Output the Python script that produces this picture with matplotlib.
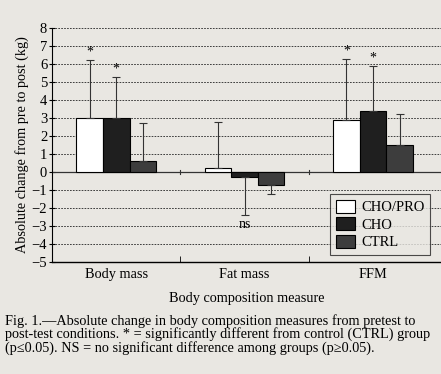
import matplotlib.pyplot as plt
import numpy as np

categories = ['Body mass', 'Fat mass', 'FFM']
groups = ['CHO/PRO', 'CHO', 'CTRL']
# mean change (kg) and SD per group, rows = groups, cols = categories
means = np.array([[3.0, 0.2, 2.9],
                  [3.0, -0.25, 3.4],
                  [0.6, -0.7, 1.5]])
sds = np.array([[3.2, 2.6, 3.4],
                [2.3, 2.15, 2.5],
                [2.1, 0.5, 1.7]])
# significance marks: (group index, category index, text)
marks = [(0, 0, '*'), (1, 0, '*'), (0, 2, '*'), (1, 2, '*'), (1, 1, 'ns')]
yticks = list(range(-5, 9))

paper = '#e9e7e2'
fills = ['#ffffff', '#1f1f1f', '#3d3d3d']

plt.rcParams['font.family'] = ['Liberation Serif', 'DejaVu Serif']
fig = plt.figure(figsize=(4.41, 3.74), dpi=100, facecolor=paper)
ax = fig.add_axes([0.118, 0.2995, 0.882, 0.6255])
ax.set_facecolor(paper)

x = np.arange(len(categories))
w = 0.207
for g in range(len(groups)):
    xs = x + (g - 1) * w
    ax.bar(xs, means[g], width=w, color=fills[g], edgecolor='black',
           linewidth=0.8, label=groups[g], zorder=3)
    sign = np.where(means[g] >= 0, 1, -1)
    lo = np.where(sign < 0, sds[g], 0)
    hi = np.where(sign > 0, sds[g], 0)
    ax.errorbar(xs, means[g], yerr=[lo, hi], fmt='none', ecolor='#333333',
                elinewidth=0.8, capsize=3, capthick=0.8, zorder=4)

for g, c, t in marks:
    top = means[g, c] + np.sign(means[g, c]) * sds[g, c]
    if t == '*':
        ax.text(c + (g - 1) * w, top + 0.08, t, ha='center', va='bottom', fontsize=10)
    else:
        ax.text(c + (g - 1) * w, top - 0.15, t, ha='center', va='top', fontsize=10)

for v in yticks:
    if v not in (0, -5):
        ax.axhline(v, color='#222222', lw=0.6, ls=(0, (2, 1.5)), zorder=1)
ax.axhline(0, color='#333333', lw=0.9, zorder=2)
for b in [0.5, 1.5]:
    ax.plot([b, b], [-0.12, 0.12], color='#333333', lw=0.8, zorder=2)

ax.set_xlim(-0.5, 2.53)
ax.set_ylim(-5, 8)
ax.set_yticks(yticks)
ax.tick_params(axis='y', direction='inout', length=5, width=0.8, labelsize=10.5, pad=1)
ax.set_xticks(x)
ax.set_xticklabels(categories, fontsize=10.3)
ax.set_xticks([0.5, 1.5], minor=True)
ax.tick_params(axis='x', which='major', length=0, pad=4)
ax.tick_params(axis='x', which='minor', length=4, direction='in')
for s in ['top', 'right']:
    ax.spines[s].set_visible(False)
ax.spines['left'].set_linewidth(0.8)
ax.spines['bottom'].set_linewidth(1.0)

ax.set_ylabel('Absolute change from pre to post (kg)', fontsize=10.3, labelpad=2)
ax.set_xlabel('Body composition measure', fontsize=10.3, labelpad=8)

leg = ax.legend(loc='lower right', bbox_to_anchor=(0.972, 0.03), fontsize=10.5,
                frameon=True, fancybox=False, edgecolor='#222222',
                handlelength=1.3, handleheight=1.0, handletextpad=0.4,
                labelspacing=0.2, borderpad=0.4, borderaxespad=0)
leg.get_frame().set_facecolor(paper)
leg.get_frame().set_linewidth(0.8)

fig.text(0.011, 0.16, 'Fig. 1.\u2014Absolute change in body composition measures from pretest to\n'
         'post-test conditions. * = significantly different from control (CTRL) group\n'
         '(p\u22640.05). NS = no significant difference among groups (p\u22650.05).',
         fontsize=10.3, va='top', ha='left', linespacing=0.95)

fig.savefig('out.png', dpi=100, facecolor=paper)
